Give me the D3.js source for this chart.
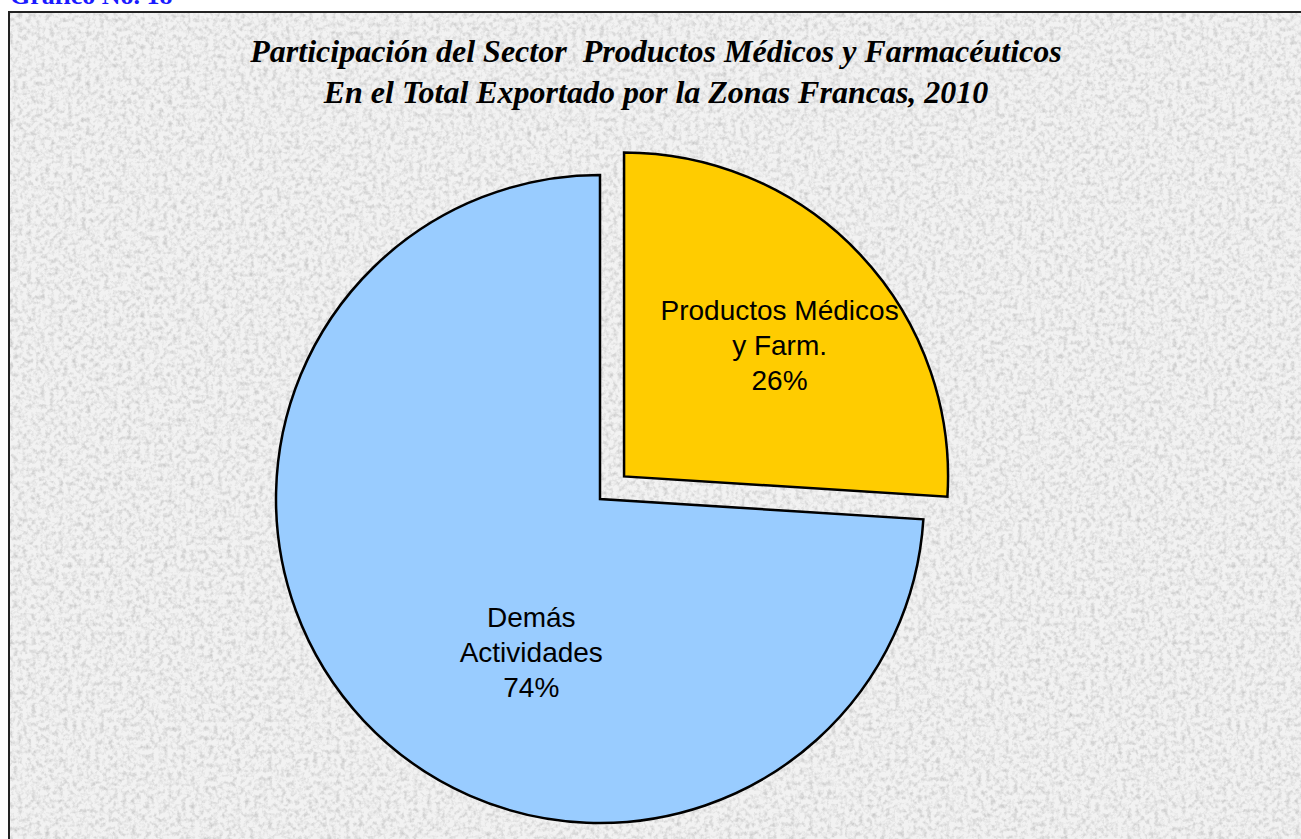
<!DOCTYPE html>
<html>
<head>
<meta charset="utf-8">
<script src="https://cdn.jsdelivr.net/npm/d3@7"></script>
<style>
  body { margin: 0; background: #fff; }
  svg { display: block; }
</style>
</head>
<body>
<svg width="1301" height="839"></svg>
<script>
// chart data
var categories = ["Productos Médicos y Farm.", "Demás Actividades"];
var values = [26, 74];
var labelLines = [["Productos Médicos", "y Farm.", "26%"], ["Demás", "Actividades", "74%"]];
var colors = ["#ffcc00", "#99ccff"];
var titleLines = ["Participación del Sector  Productos Médicos y Farmacéuticos",
                  "En el Total Exportado por la Zonas Francas, 2010"];

var svg = d3.select("svg"),
    width = +svg.attr("width"),
    height = +svg.attr("height");

// granite-like background texture
var defs = svg.append("defs");
var f = defs.append("filter").attr("id", "granite")
    .attr("x", 0).attr("y", 0).attr("width", "100%").attr("height", "100%");
f.append("feTurbulence").attr("type", "fractalNoise")
    .attr("baseFrequency", 0.22).attr("numOctaves", 3).attr("seed", 4);
f.append("feColorMatrix").attr("type", "matrix")
    .attr("values", "0 0 0 0 0  0 0 0 0 0  0 0 0 0 0  0.9 0 0 0 -0.38");
f.append("feComponentTransfer").append("feFuncA").attr("type", "linear").attr("slope", 0.4);

svg.append("text")
    .attr("x", 10).attr("y", 4)
    .attr("font-family", "Liberation Serif, Times New Roman, serif")
    .attr("font-weight", "bold")
    .attr("font-size", 26)
    .attr("fill", "#1a1aff")
    .text("Gráfico No. 18");

var frame = svg.append("g");
frame.append("rect")
    .attr("x", 9).attr("y", 12).attr("width", width).attr("height", height)
    .attr("fill", "#f2f2f2");
frame.append("rect")
    .attr("x", 9).attr("y", 12).attr("width", width).attr("height", height)
    .attr("fill", "#fff").attr("filter", "url(#granite)");
frame.append("rect")
    .attr("x", 9).attr("y", 12).attr("width", width).attr("height", height)
    .attr("fill", "none").attr("stroke", "#222").attr("stroke-width", 2);

// title
svg.append("g").selectAll("text")
  .data(titleLines)
  .enter().append("text")
    .attr("x", 656)
    .attr("y", function(d, i) { return 62 + i * 41; })
    .attr("text-anchor", "middle")
    .attr("font-family", "Liberation Serif, Times New Roman, serif")
    .attr("font-weight", "bold")
    .attr("font-style", "italic")
    .attr("font-size", 32)
    .attr("fill", "#000")
    .attr("xml:space", "preserve")
    .text(function(d) { return d; });

// pie
var cx = 600, cy = 499, r = 324, explode = 33;
// where excel put the labels (angle in degrees from 12 o'clock, distance from slice tip)
var labelAngle = [50, 204], labelDist = [203, 169];

var pie = d3.pie().sort(null).value(function(d) { return d; });
var arcs = pie(values);
var arc = d3.arc().innerRadius(0).outerRadius(r);

var slices = svg.append("g")
    .attr("transform", "translate(" + cx + "," + cy + ")")
  .selectAll("g")
  .data(arcs)
  .enter().append("g")
    .attr("transform", function(d, i) {
      if (i != 0) return null;
      var p = d3.pointRadial((d.startAngle + d.endAngle) / 2, explode);
      return "translate(" + p + ")";
    });

slices.append("path")
    .attr("d", arc)
    .attr("fill", function(d, i) { return colors[i]; })
    .attr("stroke", "#000")
    .attr("stroke-width", 2.5)
    .attr("stroke-linejoin", "miter");

slices.append("text")
    .attr("transform", function(d, i) {
      return "translate(" + d3.pointRadial(labelAngle[i] * Math.PI / 180, labelDist[i]) + ")";
    })
    .attr("text-anchor", "middle")
    .attr("font-family", "Liberation Sans, Arial, sans-serif")
    .attr("font-size", 28)
    .attr("fill", "#000")
  .selectAll("tspan")
  .data(function(d, i) { return labelLines[i]; })
  .enter().append("tspan")
    .attr("x", 0)
    .attr("y", function(d, i) { return (i - 1) * 35 + 9; })
    .text(function(d) { return d; });
</script>
</body>
</html>
